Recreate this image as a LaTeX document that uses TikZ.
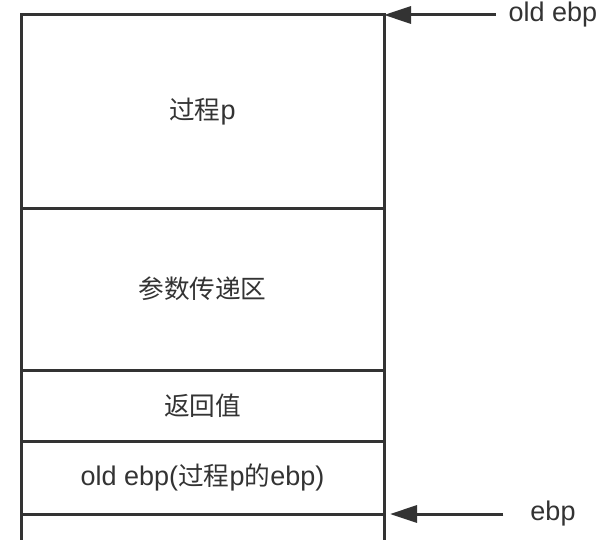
\documentclass[tikz,border=0pt]{standalone}
\usepackage{fontspec}
\setmainfont{Liberation Sans}
\newfontfamily\cjk[Scale=0.95]{Noto Sans CJK SC}
\usetikzlibrary{positioning,arrows.meta}
\definecolor{ink}{HTML}{333333}

\begin{document}
\begin{tikzpicture}[x=1pt, y=-1pt,
    frame/.style={draw=ink, line width=3pt, minimum width=363pt, outer sep=0pt,
                  inner sep=0pt, text=ink, font=\fontsize{27}{32}\selectfont},
    lbl/.style={text=ink, inner sep=3pt, font=\fontsize{27}{32}\selectfont},
    ptr/.style={draw=ink, line width=3pt, -{Triangle[length=27pt, width=17pt]}}]
    \useasboundingbox (0,0) rectangle (610,540);
    % stack frame
    \node[frame, minimum height=193pt] (proc) at (202.5,111.5) {{\cjk 过程}p};
    \node[frame, minimum height=162pt, below=0pt of proc] (args) {\cjk 参数传递区};
    \node[frame, minimum height=71pt, below=0pt of args] (ret) {\cjk 返回值};
    \node[frame, minimum height=73pt, below=0pt of ret] (oldebp) {old ebp({\cjk 过程}p{\cjk 的}ebp)};
    \coordinate (bl) at (21,540);
    \coordinate (br) at (384,540);
    \draw[draw=ink, line width=3pt] (oldebp.south west) -- (bl);
    \draw[draw=ink, line width=3pt] (oldebp.south east) -- (br);
    % pointers
    \node[lbl] (oldlbl) at (553,15) {old ebp};
    \node[lbl] (ebplbl) at (553,514) {ebp};
    \draw[ptr, shorten <=10pt] (oldlbl) -- (proc.north east);
    \draw[ptr, shorten <=24pt, shorten >=6pt] (ebplbl) -- (oldebp.south east);
\end{tikzpicture}
\end{document}
